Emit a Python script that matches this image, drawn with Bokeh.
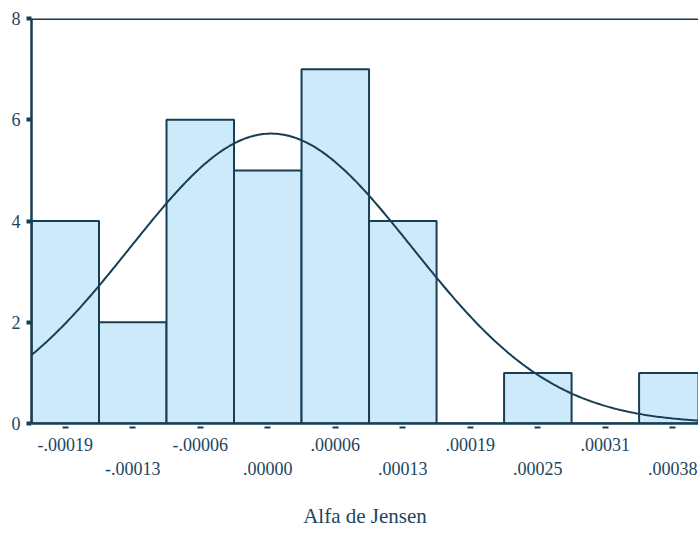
import numpy as np
from bokeh.plotting import figure
from bokeh.models import LinearAxis, FixedTicker, Span, ColumnDataSource
from bokeh.embed import file_html
from bokeh.resources import INLINE

# ---- data ----
tick_labels = ["-.00019", "-.00013", "-.00006", ".00000", ".00006",
               ".00013", ".00019", ".00025", ".00031", ".00038"]
counts = [4, 2, 6, 5, 7, 4, 0, 1, 0, 1]
y_ticks = [0, 2, 4, 6, 8]
curve_mean_bin = 3.05   # mean of fitted normal, in bin units
curve_sd_bin = 2.09     # std dev of fitted normal, in bin units

LINE = "#173E55"
FILL = "#CCEAFA"
TEXT = "#1C4560"
FONT = "Liberation Serif"

idx = list(range(len(counts)))
src = ColumnDataSource(dict(x=idx, top=counts))

p = figure(width=698, height=534, output_backend="svg", toolbar_location=None,
           x_range=(-0.5, 9.38), y_range=(0, 8),
           min_border_left=31, min_border_top=18, min_border_right=0,
           min_border_bottom=111)
p.grid.visible = False
p.outline_line_color = None
p.background_fill_color = "white"
p.border_fill_color = "white"

p.vbar(x="x", top="top", bottom=0, width=1.0, source=src,
       fill_color=FILL, line_color=LINE, line_width=2)

# fitted normal curve
n = sum(counts)
xs = np.linspace(-0.5, 9.5, 400)
ys = n / (curve_sd_bin * np.sqrt(2 * np.pi)) * np.exp(-0.5 * ((xs - curve_mean_bin) / curve_sd_bin) ** 2)
p.line(xs, ys, line_color=LINE, line_width=2)

# top border
p.add_layout(Span(location=8, dimension="width", line_color=LINE, line_width=3))

# y axis
ya = p.yaxis[0]
ya.ticker = FixedTicker(ticks=y_ticks)
ya.minor_tick_line_color = None
ya.axis_line_color = LINE
ya.axis_line_width = 2.5
ya.major_tick_line_color = LINE
ya.major_tick_line_width = 4
ya.major_tick_in = 0
ya.major_tick_out = 5
ya.major_label_standoff = 6
ya.major_label_text_font = FONT
ya.major_label_text_font_size = "18px"
ya.major_label_text_color = TEXT

# x axis (first row: even indices)
xa = p.xaxis[0]
xa.ticker = FixedTicker(ticks=idx)
xa.major_label_overrides = {i: (tick_labels[i] if i % 2 == 0 else "") for i in idx}
xa.minor_tick_line_color = None
xa.axis_line_color = LINE
xa.axis_line_width = 2.5
xa.major_tick_line_color = LINE
xa.major_tick_line_width = 6
xa.major_tick_in = -3
xa.major_tick_out = 5
xa.major_label_standoff = 9
xa.major_label_text_font = FONT
xa.major_label_text_font_size = "18px"
xa.major_label_text_color = TEXT

# second row: odd indices
xb = LinearAxis(ticker=FixedTicker(ticks=[i for i in idx if i % 2 == 1]))
xb.major_label_overrides = {i: tick_labels[i] for i in idx if i % 2 == 1}
xb.axis_line_color = None
xb.major_tick_line_color = None
xb.minor_tick_line_color = None
xb.major_tick_in = 0
xb.major_tick_out = 0
xb.major_label_standoff = 8
xb.major_label_text_font = FONT
xb.major_label_text_font_size = "18px"
xb.major_label_text_color = TEXT
xb.axis_label = "Alfa de Jensen"
xb.axis_label_text_font = FONT
xb.axis_label_text_font_size = "21px"
xb.axis_label_text_font_style = "normal"
xb.axis_label_text_color = TEXT
xb.axis_label_standoff = 26
p.add_layout(xb, "below")

open("out.html", "w").write(file_html(p, INLINE))
